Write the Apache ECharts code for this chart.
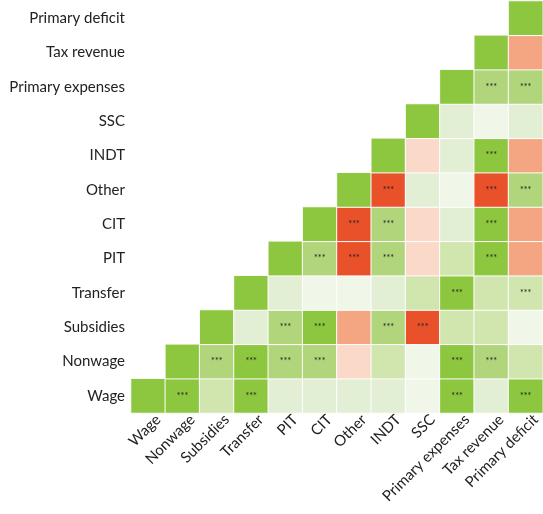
<!DOCTYPE html>
<html>
<head>
<meta charset="utf-8">
<script src="https://cdn.jsdelivr.net/npm/echarts@6/dist/echarts.min.js"></script>
<style>
  html, body { margin: 0; padding: 0; background: #fff; }
  #chart { width: 543px; height: 514px; }
</style>
</head>
<body>
<div id="chart"></div>
<script>
// variables, bottom-to-top on y and left-to-right on x
const variables = ['Wage', 'Nonwage', 'Subsidies', 'Transfer', 'PIT', 'CIT', 'Other',
  'INDT', 'SSC', 'Primary expenses', 'Tax revenue', 'Primary deficit'];

// correlation rows: row i holds columns i..11 (estimated from the colour bands)
const corrRows = [
  [1, 0.75, 0.3, 0.75, 0.15, 0.15, 0.15, 0.15, 0.05, 0.75, 0.15, 0.75],
  [1, 0.5, 0.75, 0.5, 0.5, -0.15, 0.3, 0.05, 0.75, 0.5, 0.3],
  [1, 0.15, 0.5, 0.75, -0.35, 0.5, -0.6, 0.3, 0.3, 0.05],
  [1, 0.15, 0.05, 0.05, 0.15, 0.3, 0.75, 0.3, 0.3],
  [1, 0.5, -0.6, 0.5, -0.15, 0.3, 0.75, -0.35],
  [1, -0.6, 0.5, -0.15, 0.15, 0.75, -0.35],
  [1, -0.6, 0.15, 0.05, -0.6, 0.5],
  [1, -0.15, 0.15, 0.75, -0.35],
  [1, 0.15, 0.05, 0.15],
  [1, 0.5, 0.5],
  [1, -0.35],
  [1]
];

// significance markers, same shape as corrRows
const sigRows = [
  ['', '***', '', '***', '', '', '', '', '', '***', '', '***'],
  ['', '***', '***', '***', '***', '', '', '', '***', '***', ''],
  ['', '', '***', '***', '', '***', '***', '', '', ''],
  ['', '', '', '', '', '', '***', '', '***'],
  ['', '***', '***', '***', '', '', '***', ''],
  ['', '***', '***', '', '', '***', ''],
  ['', '***', '', '', '***', '***'],
  ['', '', '', '***', ''],
  ['', '', '', ''],
  ['', '***', '***'],
  ['', ''],
  ['']
];

const data = [];
corrRows.forEach((row, r) => {
  row.forEach((v, k) => {
    data.push([r + k, r, v, sigRows[r][k]]);
  });
});

const chart = echarts.init(document.getElementById('chart'));
chart.setOption({
  animation: false,
  textStyle: { fontFamily: 'Lato' },
  grid: { left: 131, top: 1, right: 0, bottom: 101 },
  xAxis: {
    type: 'category',
    data: variables,
    axisLine: { show: false },
    axisTick: { show: false },
    splitArea: { show: false },
    axisLabel: {
      rotate: 45,
      interval: 0,
      margin: 14,
      padding: [0, -14, 0, 0],
      fontSize: 15,
      color: '#222',
      fontFamily: 'Lato'
    }
  },
  yAxis: {
    type: 'category',
    data: variables,
    axisLine: { show: false },
    axisTick: { show: false },
    splitArea: { show: false },
    axisLabel: {
      interval: 0,
      margin: 6,
      fontSize: 15,
      color: '#222',
      fontFamily: 'Lato'
    }
  },
  visualMap: {
    type: 'piecewise',
    show: false,
    dimension: 2,
    pieces: [
      { gte: 0.7, color: '#8DC63F' },
      { gte: 0.4, lt: 0.7, color: '#B0D57A' },
      { gte: 0.2, lt: 0.4, color: '#D1E5AF' },
      { gte: 0.1, lt: 0.2, color: '#E2EFD4' },
      { gte: 0, lt: 0.1, color: '#F0F6E8' },
      { gte: -0.25, lt: 0, color: '#FBD9C8' },
      { gte: -0.5, lt: -0.25, color: '#F4A682' },
      { lt: -0.5, color: '#E9512B' }
    ]
  },
  series: [{
    type: 'heatmap',
    data: data,
    encode: { x: 0, y: 1, value: 2 },
    itemStyle: { borderColor: '#fff', borderWidth: 1 },
    label: {
      show: true,
      fontSize: 9,
      color: '#222',
      formatter: p => p.data[3]
    },
    emphasis: { disabled: true }
  }]
});
</script>
</body>
</html>
